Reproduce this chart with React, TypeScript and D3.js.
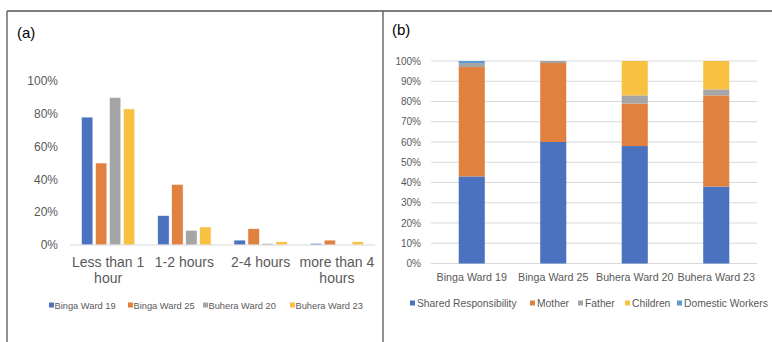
import React from "react";
import * as d3 from "d3";

// ---- Panel (a) data ----
const durationCategories = ["Less than 1 hour", "1-2 hours", "2-4 hours", "more than 4 hours"];
const durationLabelLines = [["Less than 1", "hour"], ["1-2 hours"], ["2-4 hours"], ["more than 4", "hours"]];
const wards = ["Binga Ward 19", "Binga Ward 25", "Buhera Ward 20", "Buhera Ward 23"];
const bingaWard19 = [0.78, 0.18, 0.03, 0.01];
const bingaWard25 = [0.5, 0.37, 0.1, 0.03];
const buheraWard20 = [0.9, 0.09, 0.01, 0.0];
const buheraWard23 = [0.83, 0.11, 0.02, 0.02];
const durationTicks = [0, 0.2, 0.4, 0.6, 0.8, 1.0];

// ---- Panel (b) data ----
const roles = ["Shared Responsibility", "Mother", "Father", "Children", "Domestic Workers"];
const sharedResponsibility = [0.43, 0.6, 0.58, 0.38];
const mother = [0.54, 0.39, 0.21, 0.45];
const father = [0.02, 0.01, 0.04, 0.03];
const children = [0.0, 0.0, 0.17, 0.14];
const domesticWorkers = [0.01, 0.0, 0.0, 0.0];
const roleTicks = [0, 0.1, 0.2, 0.3, 0.4, 0.5, 0.6, 0.7, 0.8, 0.9, 1.0];

const seriesColors = ["#4A72BF", "#E1813F", "#A5A5A5", "#F8C142"];
const roleColors = ["#4A72BF", "#E1813F", "#A5A5A5", "#F8C142", "#5B9BD5"];
const textColor = "#595959";
const font = "'Liberation Sans', Arial, sans-serif";

export default function App() {
  const W = 772, H = 342;

  // Panel (a) scales
  const aSeries = [bingaWard19, bingaWard25, buheraWard20, buheraWard23];
  const ax0 = d3.scaleBand<string>().domain(durationCategories).range([70, 375]).paddingInner(0.3).paddingOuter(0.15);
  const ax1 = d3.scaleBand<string>().domain(wards).range([0, ax0.bandwidth()]).paddingInner(0.18);
  const ay = d3.scaleLinear().domain([0, 1]).range([245, 81]);
  const pct = d3.format(".0%");

  // Panel (b) scales
  const bSeriesArr = [sharedResponsibility, mother, father, children, domesticWorkers];
  const stackData = wards.map((w, i) => {
    const o: any = { ward: w };
    roles.forEach((r, j) => (o[r] = bSeriesArr[j][i]));
    return o;
  });
  const stacked = d3.stack<any>().keys(roles)(stackData);
  const bx = d3.scaleBand<string>().domain(wards).range([431, 757]).paddingInner(0.68).paddingOuter(0.34);
  const by = d3.scaleLinear().domain([0, 1]).range([263.5, 61]);

  const aLegendX = [49, 128, 203, 290];
  const bLegendX = [410, 530, 578, 625, 677];

  return (
    <svg width={W} height={H} style={{ position: "absolute", left: 0, top: 0, background: "#fff" }} fontFamily={font}>
      <rect x={0} y={0} width={W} height={H} fill="#fff" />
      {/* frame */}
      <line x1={7} x2={W} y1={11} y2={11} stroke="#555" strokeWidth={1.6} />
      <line x1={7} x2={7} y1={11} y2={H} stroke="#555" strokeWidth={1.3} />
      <line x1={383} x2={383} y1={11} y2={H} stroke="#555" strokeWidth={1.3} />

      {/* Panel (a) */}
      <text x={17} y={38} fontSize={15} fill="#000">(a)</text>
      {durationTicks.map((t) => (
        <text key={t} x={58} y={ay(t)} dy="0.35em" textAnchor="end" fontSize={12} fill={textColor}>
          {pct(t)}
        </text>
      ))}
      {durationCategories.map((c, ci) => (
        <g key={c} transform={`translate(${ax0(c)},0)`}>
          {wards.map((w, si) => (
            <rect
              key={w}
              x={ax1(w)}
              y={ay(aSeries[si][ci])}
              width={ax1.bandwidth()}
              height={ay(0) - ay(aSeries[si][ci])}
              fill={seriesColors[si]}
              stroke="#fff"
              strokeWidth={0.6}
            />
          ))}
        </g>
      ))}
      <line x1={70} x2={375} y1={ay(0)} y2={ay(0)} stroke="#D9D9D9" strokeWidth={1} />
      {durationCategories.map((c, ci) => (
        <text key={c} x={(ax0(c) as number) + ax0.bandwidth() / 2} y={267} textAnchor="middle" fontSize={14} fill={textColor}>
          {durationLabelLines[ci].map((l, li) => (
            <tspan key={li} x={(ax0(c) as number) + ax0.bandwidth() / 2} dy={li === 0 ? 0 : 16}>
              {l}
            </tspan>
          ))}
        </text>
      ))}
      {wards.map((w, i) => (
        <g key={w}>
          <rect x={aLegendX[i]} y={302.5} width={5} height={5} fill={seriesColors[i]} />
          <text x={aLegendX[i] + 5.5} y={308.5} fontSize={9.3} fill={textColor}>{w}</text>
        </g>
      ))}

      {/* Panel (b) */}
      <text x={392} y={35} fontSize={15} fill="#000">(b)</text>
      {roleTicks.map((t) => (
        <g key={t}>
          <line x1={431} x2={757} y1={by(t)} y2={by(t)} stroke="#D9D9D9" strokeWidth={1} />
          <text x={421} y={by(t)} dy="0.35em" textAnchor="end" fontSize={10} fill={textColor}>
            {pct(t)}
          </text>
        </g>
      ))}
      {stacked.map((layer, li) => (
        <g key={roles[li]} fill={roleColors[li]}>
          {layer.map((d, i) =>
            d[1] - d[0] > 0 ? (
              <rect key={i} x={bx(wards[i])} y={by(d[1])} width={bx.bandwidth()} height={by(d[0]) - by(d[1])} />
            ) : null
          )}
        </g>
      ))}
      {wards.map((w) => (
        <text key={w} x={(bx(w) as number) + bx.bandwidth() / 2} y={281} textAnchor="middle" fontSize={10.7} fill={textColor}>
          {w}
        </text>
      ))}
      {roles.map((r, i) => (
        <g key={r}>
          <rect x={bLegendX[i]} y={300.5} width={5} height={5} fill={roleColors[i]} />
          <text x={bLegendX[i] + 7} y={307} fontSize={10.3} fill={textColor}>{r}</text>
        </g>
      ))}
    </svg>
  );
}
